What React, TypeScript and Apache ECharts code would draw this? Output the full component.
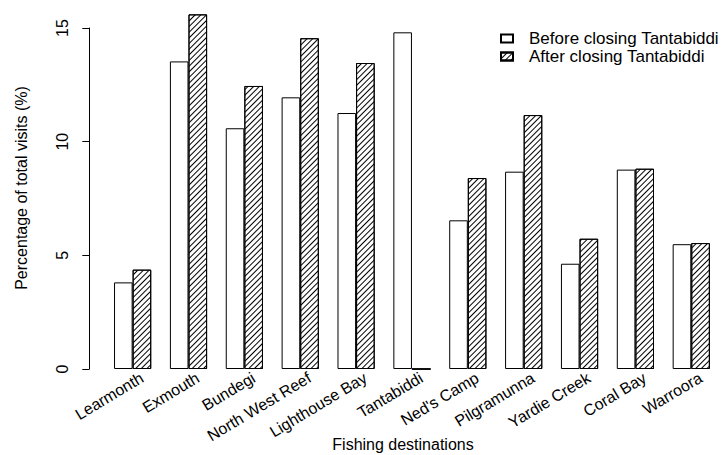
import React, { useEffect, useRef } from "react";
import * as echarts from "echarts";

const categories = [
  "Learmonth",
  "Exmouth",
  "Bundegi",
  "North West Reef",
  "Lighthouse Bay",
  "Tantabiddi",
  "Ned's Camp",
  "Pilgramunna",
  "Yardie Creek",
  "Coral Bay",
  "Warroora",
];
const beforeValues = [3.81, 13.53, 10.59, 11.95, 11.26, 14.81, 6.54, 8.68, 4.63, 8.77, 5.49];
const afterValues = [4.37, 15.6, 12.45, 14.55, 13.46, 0, 8.4, 11.17, 5.73, 8.81, 5.54];
const yTicks = [0, 5, 10, 15];
const seriesNames = ["Before closing Tantabiddi", "After closing Tantabiddi"];
const xTitle = "Fishing destinations";
const yTitle = "Percentage of total visits (%)";

const FONT = "'Liberation Sans', Arial, Helvetica, sans-serif";

export default function App() {
  const ref = useRef<HTMLDivElement>(null);
  useEffect(() => {
    if (!ref.current) return;
    const chart = echarts.init(ref.current, null, { renderer: "svg" });
    const hatch = {
      symbol: "rect",
      symbolSize: 1,
      color: "#000",
      dashArrayX: [1, 0],
      dashArrayY: [1, 2.4],
      rotation: -Math.PI / 4,
    };
    chart.setOption({
      animation: false,
      backgroundColor: "#fff",
      textStyle: { fontFamily: FONT },
      grid: { left: 104.7, right: 5.8, top: 28, bottom: 86 },
      legend: {
        orient: "vertical",
        left: 495,
        top: 25,
        itemWidth: 12,
        itemHeight: 8,
        itemGap: 1,
        icon: "rect",
        data: seriesNames,
        textStyle: { fontFamily: FONT, fontSize: 17, color: "#000", padding: [0, 0, 0, 11] },
      },
      xAxis: {
        type: "category",
        data: categories,
        axisLine: { show: false },
        axisTick: { show: false },
        axisLabel: {
          interval: 0,
          rotate: 31,
          margin: 13,
          padding: [0, -11, 0, 0],
          fontFamily: FONT,
          fontSize: 16,
          color: "#000",
        },
      },
      yAxis: {
        type: "value",
        min: yTicks[0],
        max: yTicks[yTicks.length - 1],
        interval: 5,
        offset: 15.4,
        splitLine: { show: false },
        axisLine: { show: true, lineStyle: { color: "#000", width: 1 } },
        axisTick: { show: true, length: 7, lineStyle: { color: "#000" } },
        axisLabel: {
          rotate: 90,
          margin: 19,
          fontFamily: FONT,
          fontSize: 16,
          color: "#000",
        },
      },
      series: [
        {
          name: seriesNames[0],
          type: "bar",
          data: beforeValues,
          barWidth: 18.6,
          barGap: "0%",
          clip: false,
          itemStyle: { color: "#fff", borderColor: "#000", borderWidth: 1 },
        },
        {
          name: seriesNames[1],
          type: "bar",
          data: afterValues,
          barWidth: 18.6,
          barGap: "0%",
          clip: false,
          itemStyle: { color: "#fff", borderColor: "#000", borderWidth: 1, decal: hatch },
        },
      ],
      graphic: [
        {
          type: "text",
          x: 403,
          y: 444,
          style: {
            text: xTitle,
            fontFamily: FONT,
            fontSize: 16,
            fill: "#000",
            align: "center",
            verticalAlign: "middle",
          },
        },
        {
          type: "text",
          x: 21,
          y: 188,
          rotation: Math.PI / 2,
          style: {
            text: yTitle,
            fontFamily: FONT,
            fontSize: 16,
            fill: "#000",
            align: "center",
            verticalAlign: "middle",
          },
        },
      ],
    });
    return () => chart.dispose();
  }, []);
  return <div ref={ref} style={{ width: 725, height: 455, position: "absolute", left: 0, top: 0 }} />;
}
